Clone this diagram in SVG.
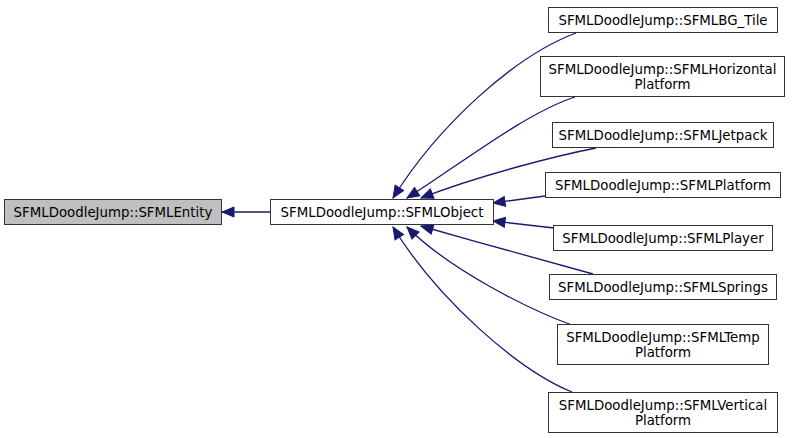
<svg xmlns="http://www.w3.org/2000/svg" width="792" height="438" viewBox="0 0 792 438">
<style>
.n rect{fill:#ffffff;stroke:#333333;stroke-width:1}
.n.cur rect{fill:#bfbfbf}
.n text{font-family:"DejaVu Sans",sans-serif;font-size:13.33px;fill:#000;text-anchor:middle}
.e path{fill:none;stroke:#191970;stroke-width:1.3}
</style>
<defs>
<marker id="ah" markerUnits="userSpaceOnUse" markerWidth="14" markerHeight="12" viewBox="0 0 14 12" refX="13" refY="6" orient="auto">
<path d="M1,1 L13,6 L1,11 Z" fill="#191970" stroke="#191970" stroke-width="1"/>
</marker>
</defs>
<g id="edges" class="e">
<path d="M270,212 L222,212" marker-end="url(#ah)"/>
<path d="M576,33 C514,56 438,126 393,198" marker-end="url(#ah)"/>
<path d="M575,97 C525,113 455,168 407,198" marker-end="url(#ah)"/>
<path d="M596,148 C560,155 480,175 421,198" marker-end="url(#ah)"/>
<path d="M545,196 L493,203" marker-end="url(#ah)"/>
<path d="M554,228 L493,221" marker-end="url(#ah)"/>
<path d="M593,274 C550,262 480,243 421,226" marker-end="url(#ah)"/>
<path d="M572,325 C530,310 450,270 407,227" marker-end="url(#ah)"/>
<path d="M572,392 C518,370 438,300 393,227" marker-end="url(#ah)"/>
</g>
<g id="entity" class="n cur"><rect x="4.5" y="199.5" width="217" height="25"/><text x="113" y="216.5">SFMLDoodleJump::SFMLEntity</text></g>
<g id="object" class="n"><rect x="270.5" y="199.5" width="223" height="25"/><text x="382" y="216.5">SFMLDoodleJump::SFMLObject</text></g>
<g id="bgtile" class="n"><rect x="548.5" y="7.5" width="229" height="25"/><text x="663" y="24.5">SFMLDoodleJump::SFMLBG_Tile</text></g>
<g id="horizontal" class="n"><rect x="540.5" y="56.5" width="244" height="40"/><text x="662.5" y="73.5">SFMLDoodleJump::SFMLHorizontal</text><text x="662.5" y="88.5">Platform</text></g>
<g id="jetpack" class="n"><rect x="552.5" y="122.5" width="221" height="25"/><text x="663" y="139.5">SFMLDoodleJump::SFMLJetpack</text></g>
<g id="platform" class="n"><rect x="545.5" y="172.5" width="235" height="25"/><text x="663" y="189.5">SFMLDoodleJump::SFMLPlatform</text></g>
<g id="player" class="n"><rect x="553.5" y="225.5" width="219" height="25"/><text x="663" y="242.5">SFMLDoodleJump::SFMLPlayer</text></g>
<g id="springs" class="n"><rect x="549.5" y="274.5" width="227" height="25"/><text x="663" y="291.5">SFMLDoodleJump::SFMLSprings</text></g>
<g id="temp" class="n"><rect x="557.5" y="324.5" width="211" height="40"/><text x="663" y="341.5">SFMLDoodleJump::SFMLTemp</text><text x="663" y="356.5">Platform</text></g>
<g id="vertical" class="n"><rect x="548.5" y="392.5" width="229" height="40"/><text x="663" y="409.5">SFMLDoodleJump::SFMLVertical</text><text x="663" y="424.5">Platform</text></g>
</svg>
